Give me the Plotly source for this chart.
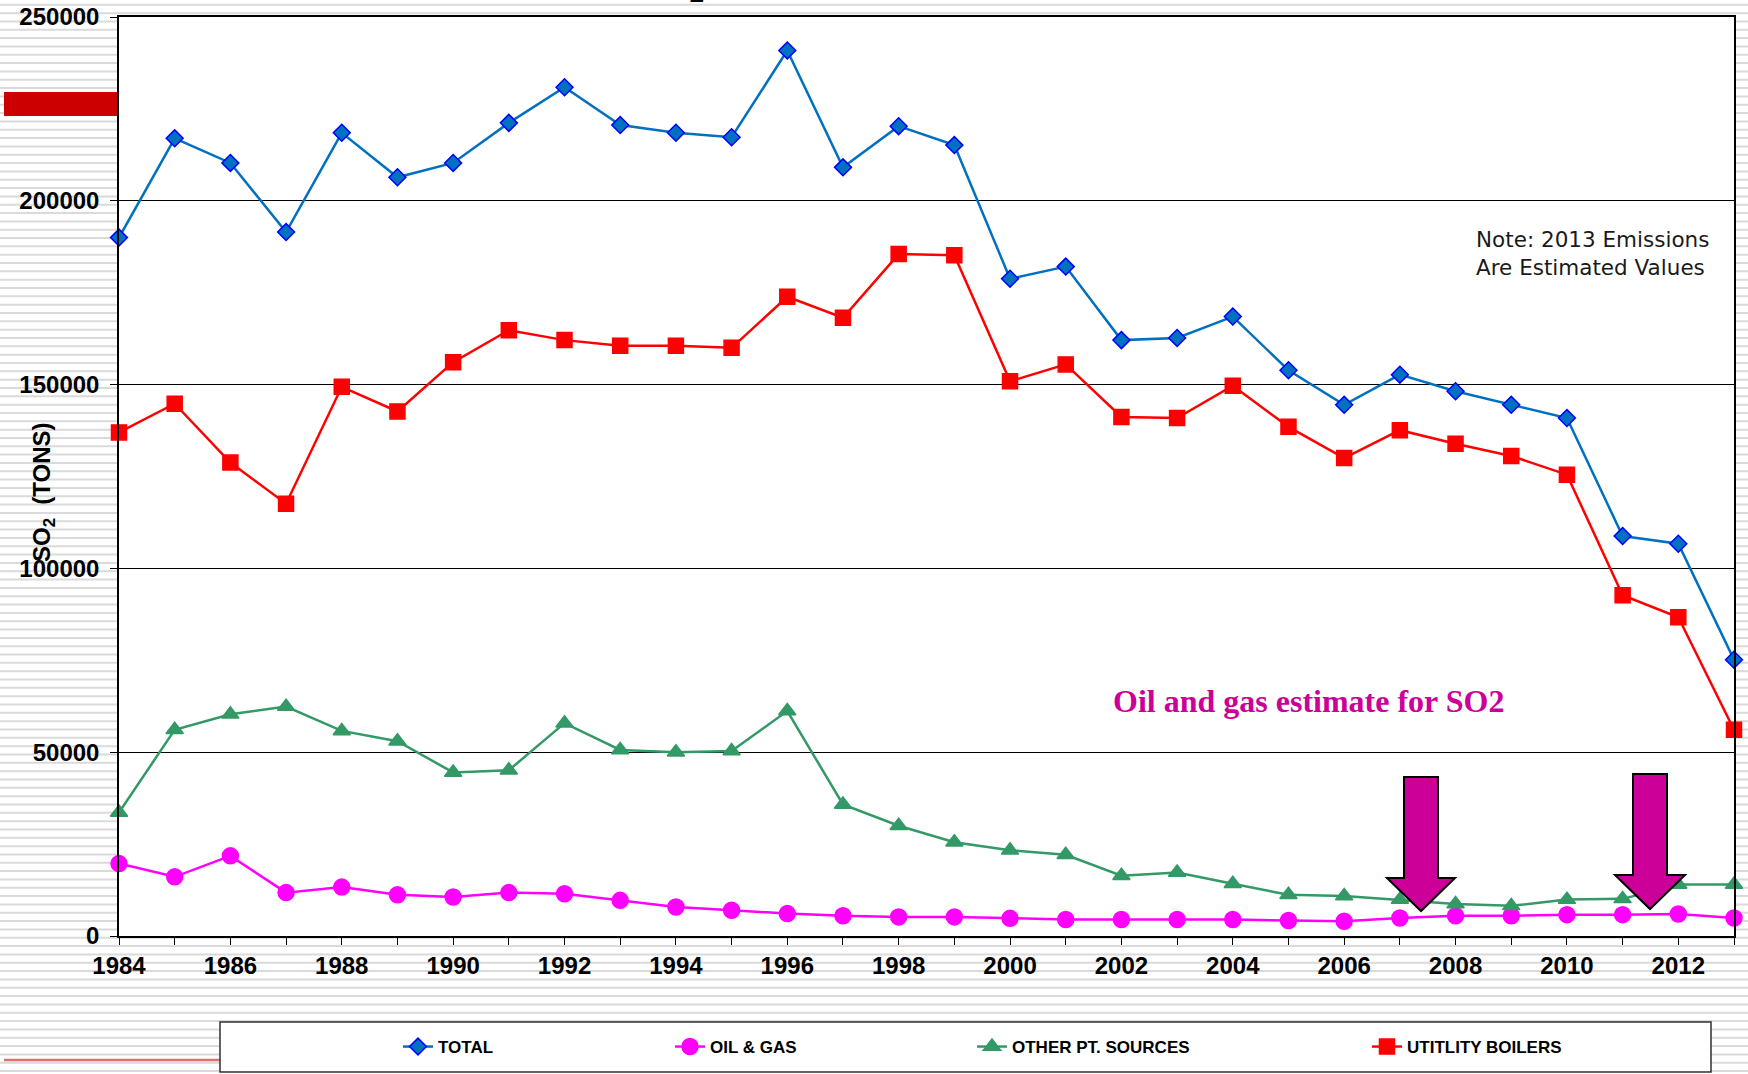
import plotly.graph_objects as go

# ---------------- data ----------------
years = list(range(1984, 2014))

total = [190000, 217000, 210300, 191500, 218500, 206400, 210300, 221200, 230900, 220600,
         218500, 217300, 240900, 209100, 220300, 215150, 178800, 182100, 162100, 162700,
         168500, 153900, 144500, 152700, 148200, 144500, 140900, 108800, 106700, 75150]

oil_gas = [19700, 16100, 21800, 11800, 13300, 11200, 10600, 11800, 11500, 9700,
           7900, 7000, 6100, 5500, 5200, 5200, 4800, 4500, 4500, 4500,
           4500, 4200, 4000, 4900, 5500, 5500, 5800, 5800, 6000, 4900]

other_pt = [33600, 56100, 60300, 62400, 55800, 53000, 44500, 45100, 57900, 50600,
            50000, 50300, 61200, 35800, 30000, 25500, 23300, 22100, 16400, 17300,
            14200, 11200, 10900, 9900, 8700, 8200, 9900, 10100, 14000, 14000]

utility = [137000, 144800, 128800, 117600, 149400, 142700, 156100, 164800, 162100, 160600,
           160600, 160000, 173900, 168200, 185500, 185200, 150900, 155500, 141200, 140900,
           149700, 138500, 130000, 137600, 133900, 130600, 125500, 92700, 86700, 56100]

series_names = ["TOTAL", "OIL & GAS", "OTHER PT. SOURCES", "UTITLITY BOILERS"]

# ---------------- layout geometry (pixels) ----------------
W, H = 1748, 1074
L, R, T, B = 119, 14, 17, 138
PW, PH = W - L - R, H - T - B


def px(x):
    return (x - L) / PW


def py(y):
    return (H - B - y) / PH


BOLD = "Liberation Sans"

fig = go.Figure()

styles = [
    dict(color="#0070C0", symbol="diamond", size=13, mcolor="#0070C0", mline="#0000FF"),
    dict(color="#FF00FF", symbol="circle", size=16, mcolor="#FF00FF", mline="#FF00FF"),
    dict(color="#339966", symbol="triangle-up", size=15, mcolor="#339966", mline="#339966"),
    dict(color="#FF0000", symbol="square", size=15, mcolor="#FF0000", mline="#FF0000"),
]
data = [total, oil_gas, other_pt, utility]
legends = ["legend", "legend2", "legend3", "legend4"]

for name, vals, st, lg in zip(series_names, data, styles, legends):
    fig.add_trace(go.Scatter(
        x=years, y=vals, name=name, mode="lines+markers",
        line=dict(color=st["color"], width=2.5),
        marker=dict(symbol=st["symbol"], size=st["size"], color=st["mcolor"],
                    line=dict(color=st["mline"], width=1.5)),
        cliponaxis=False, legend=lg,
    ))

# ---------------- background stripes ----------------
parts = []
y = 4.8
period = 8.33
while y < H:
    if T - 1 <= y <= H - B + 1:
        parts.append(f"M{px(0):.5f},{py(y):.5f}H{px(L):.5f}")
        parts.append(f"M{px(L + PW):.5f},{py(y):.5f}H{px(W + 2):.5f}")
    else:
        parts.append(f"M{px(0):.5f},{py(y):.5f}H{px(W + 2):.5f}")
    y += period
shapes = [dict(type="path", xref="paper", yref="paper", path="".join(parts),
               line=dict(color="#DADADA", width=2), layer="below")]

# red bar at left
shapes.append(dict(type="rect", xref="paper", yref="paper",
                   x0=px(4), x1=px(L), y0=py(116), y1=py(92),
                   fillcolor="#CC0000", line=dict(width=0), layer="below"))
# thin red line at bottom left
shapes.append(dict(type="line", xref="paper", yref="paper",
                   x0=px(4), x1=px(221), y0=py(1060), y1=py(1060),
                   line=dict(color="#E07070", width=2.5), layer="below"))
# legend frame
shapes.append(dict(type="rect", xref="paper", yref="paper",
                   x0=px(220), x1=px(1711), y0=py(1072), y1=py(1022),
                   fillcolor="white", line=dict(color="#303030", width=1.5), layer="below"))


# arrows
def arrow(sl, sr, top, hb, hl, hr, tipx, tipy):
    pts = [(sl, top), (sr, top), (sr, hb), (hr, hb), (tipx, tipy), (hl, hb), (sl, hb)]
    return "M" + "L".join(f"{px(a):.5f},{py(b):.5f}" for a, b in pts) + "Z"


for a in [(1404, 1438, 777, 878, 1387, 1455, 1421, 911),
          (1633, 1667, 774, 875, 1615, 1685, 1650, 909)]:
    shapes.append(dict(type="path", xref="paper", yref="paper", path=arrow(*a),
                       fillcolor="#CC0099", line=dict(color="black", width=2), layer="above"))

annotations = [
    dict(text="Note: 2013 Emissions<br>Are Estimated Values", xref="paper", yref="paper",
         x=px(1474), y=py(225), xanchor="left", yanchor="top", align="left", showarrow=False,
         font=dict(family="DejaVu Sans", size=21.5, color="#1A1A1A")),
    dict(text="Oil and gas estimate for SO2", xref="paper", yref="paper",
         x=px(1308), y=py(701), xanchor="center", yanchor="middle", showarrow=False,
         font=dict(family="Liberation Serif", size=32, color="#CC0099", weight="bold")),
    dict(text="SO<sub>2</sub>  (TONS)", xref="paper", yref="paper",
         x=px(43), y=py(492), xanchor="center", yanchor="middle", showarrow=False,
         textangle=-90, font=dict(family=BOLD, size=24, color="black", weight="bold")),
]

legend_common = dict(orientation="h", bgcolor="rgba(0,0,0,0)", borderwidth=0,
                     yanchor="middle", y=py(1047), xanchor="left",
                     font=dict(family=BOLD, size=17, color="black", weight="bold"))
leg_x = [398, 670, 972, 1367]

fig.update_layout(
    width=W, height=H, autosize=False,
    margin=dict(l=L, r=R, t=T, b=B, pad=0, autoexpand=False),
    paper_bgcolor="white", plot_bgcolor="white",
    showlegend=True,
    title=dict(text="2", xref="container", yref="container", x=698 / W, xanchor="center",
               y=1 - 2 / H, yanchor="bottom", automargin=False,
               font=dict(family=BOLD, size=26, color="black", weight="bold", style="italic")),
    legend=dict(legend_common, x=px(leg_x[0])),
    legend2=dict(legend_common, x=px(leg_x[1])),
    legend3=dict(legend_common, x=px(leg_x[2])),
    legend4=dict(legend_common, x=px(leg_x[3])),
    shapes=shapes, annotations=annotations,
    xaxis=dict(range=[1984, 2013], tick0=1984, dtick=2, ticks="outside", ticklen=7,
               tickcolor="black", tickwidth=1, showline=True, linecolor="black",
               linewidth=1.5, mirror=True, showgrid=False, zeroline=False,
               ticklabelstandoff=0, automargin=False,
               minor=dict(dtick=1, tick0=1984, ticks="outside", ticklen=7,
                          tickcolor="black", tickwidth=1, showgrid=False),
               tickfont=dict(family=BOLD, size=24, color="black", weight="bold")),
    yaxis=dict(range=[0, 250000], tick0=0, dtick=50000, tickformat="d",
               ticks="outside", ticklen=7, tickcolor="black", showline=True,
               linecolor="black", linewidth=1.5, mirror=True, showgrid=True,
               gridcolor="black", gridwidth=1, zeroline=False,
               ticklabelstandoff=6, automargin=False,
               tickfont=dict(family=BOLD, size=24, color="black", weight="bold")),
)

fig.write_html("out.html", config={"displayModeBar": False},
               post_script="document.body.style.margin='0';")
